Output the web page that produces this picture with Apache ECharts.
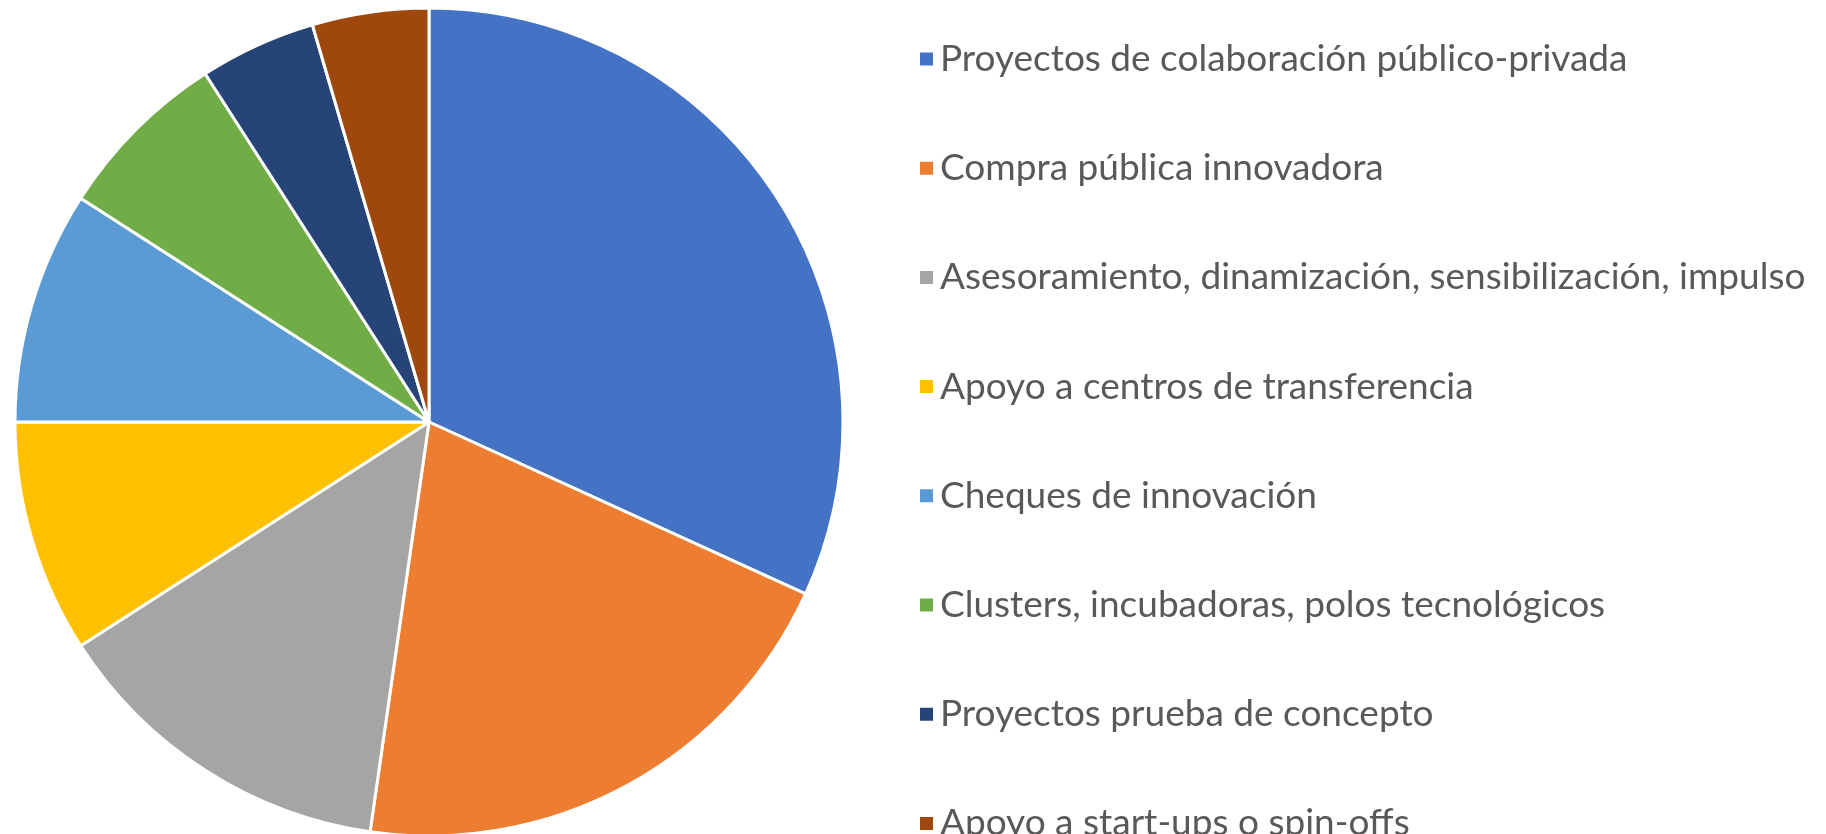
<!DOCTYPE html>
<html>
<head>
<meta charset="utf-8">
<script src="https://cdn.jsdelivr.net/npm/echarts@6/dist/echarts.min.js"></script>
<style>
  html, body { margin: 0; padding: 0; background: #fff; }
  #chart { width: 1826px; height: 834px; }
</style>
</head>
<body>
<div id="chart"></div>
<script>
// categorias y valores
var categories = [
  'Proyectos de colaboración público-privada',
  'Compra pública innovadora',
  'Asesoramiento, dinamización, sensibilización, impulso',
  'Apoyo a centros de transferencia',
  'Cheques de innovación',
  'Clusters, incubadoras, polos tecnológicos',
  'Proyectos prueba de concepto',
  'Apoyo a start-ups o spin-offs'
];
var values = [14, 9, 6, 4, 4, 3, 2, 2];
var colors = ['#4472C4', '#ED7D31', '#A5A5A5', '#FFC000', '#5B9BD5', '#70AD47', '#264478', '#9E480E'];

var pieData = categories.map(function (name, i) {
  return { name: name, value: values[i] };
});

var myChart = echarts.init(document.getElementById('chart'));
myChart.setOption({
  animation: false,
  color: colors,
  legend: {
    orient: 'vertical',
    left: 913,
    top: 32,
    height: 1000,
    icon: 'rect',
    itemWidth: 15,
    itemHeight: 15,
    itemGap: 65.2,
    textStyle: {
      fontFamily: 'Lato',
      fontSize: 37,
      color: '#595959',
      lineHeight: 44,
      padding: [0, 0, 0, 1]
    },
    data: categories
  },
  series: [{
    type: 'pie',
    center: [429, 422],
    radius: 414,
    startAngle: 90,
    clockwise: true,
    label: { show: false },
    labelLine: { show: false },
    itemStyle: { borderColor: '#fff', borderWidth: 3 },
    emphasis: { disabled: true },
    data: pieData
  }]
});
</script>
</body>
</html>
